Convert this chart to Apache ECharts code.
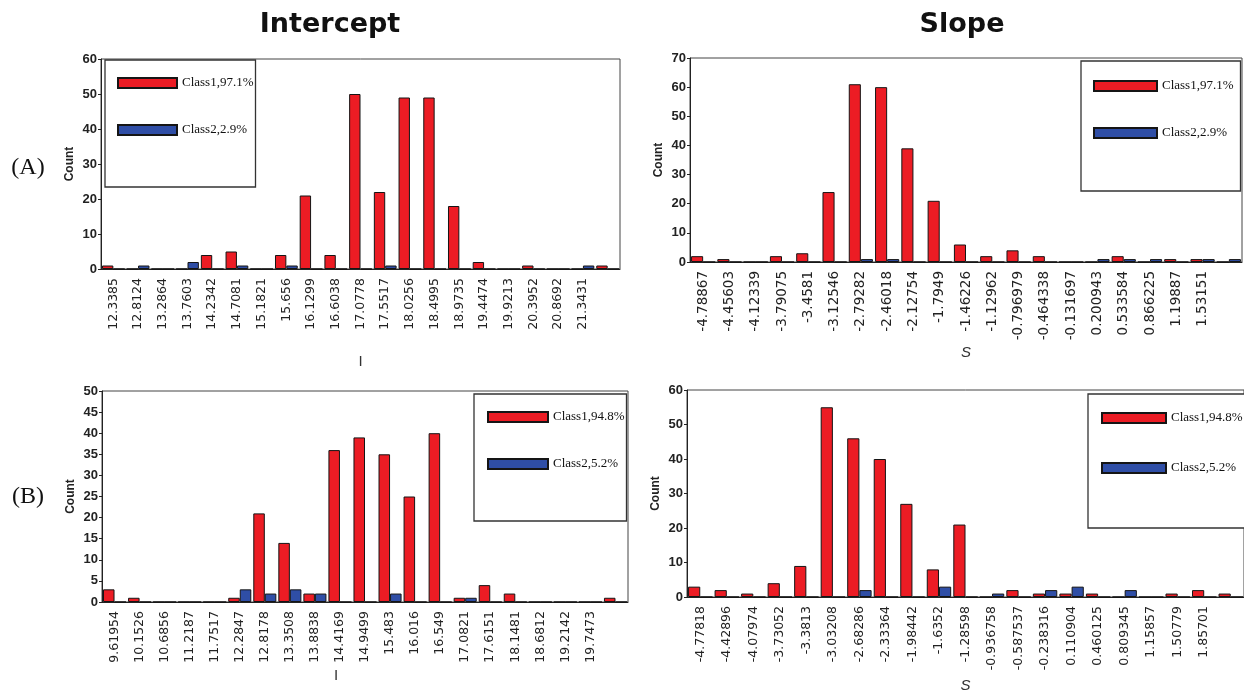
<!DOCTYPE html>
<html>
<head>
<meta charset="utf-8">
<script src="https://cdn.jsdelivr.net/npm/echarts@6/dist/echarts.min.js"></script>
<style>
  html, body { margin: 0; padding: 0; background: #fff; }
  #chart { width: 1244px; height: 694px; }
</style>
</head>
<body>
<div id="chart"></div>
<script>
// Bin labels (last bin of every histogram carries no label)
const interceptBinsA = ['12.3385','12.8124','13.2864','13.7603','14.2342','14.7081','15.1821','15.656','16.1299','16.6038','17.0778','17.5517','18.0256','18.4995','18.9735','19.4474','19.9213','20.3952','20.8692','21.3431',''];
const slopeBinsA = ['-4.78867','-4.45603','-4.12339','-3.79075','-3.4581','-3.12546','-2.79282','-2.46018','-2.12754','-1.7949','-1.46226','-1.12962','-0.796979','-0.464338','-0.131697','0.200943','0.533584','0.866225','1.19887','1.53151',''];
const interceptBinsB = ['9.61954','10.1526','10.6856','11.2187','11.7517','12.2847','12.8178','13.3508','13.8838','14.4169','14.9499','15.483','16.016','16.549','17.0821','17.6151','18.1481','18.6812','19.2142','19.7473',''];
const slopeBinsB = ['-4.77818','-4.42896','-4.07974','-3.73052','-3.3813','-3.03208','-2.68286','-2.33364','-1.98442','-1.6352','-1.28598','-0.936758','-0.587537','-0.238316','0.110904','0.460125','0.809345','1.15857','1.50779','1.85701',''];

// Class names
const class1A = 'Class1,97.1%';
const class2A = 'Class2,2.9%';
const class1B = 'Class1,94.8%';
const class2B = 'Class2,5.2%';

// Counts per bin
const interceptA1 = [1,0,0,0,4,5,0,4,21,4,50,22,49,49,18,2,0,1,0,0,1];
const interceptA2 = [0,1,0,2,0,1,0,1,0,0,0,1,0,0,0,0,0,0,0,1,0];
const slopeA1 = [2,1,0,2,3,24,61,60,39,21,6,2,4,2,0,0,2,0,1,1,0];
const slopeA2 = [0,0,0,0,0,0,1,1,0,0,0,0,0,0,0,1,1,1,0,1,1];
const interceptB1 = [3,1,0,0,0,1,21,14,2,36,39,35,25,40,1,4,2,0,0,0,1];
const interceptB2 = [0,0,0,0,0,3,2,3,2,0,0,2,0,0,1,0,0,0,0,0,0];
const slopeB1 = [3,2,1,4,9,55,46,40,27,8,21,0,2,1,1,1,0,0,1,2,1];
const slopeB2 = [0,0,0,0,0,0,2,0,0,3,0,1,0,2,3,0,2,0,0,0,0];

// Count axis ranges
const yMax = [60, 70, 50, 60];
const yStep = [10, 10, 5, 10];

const RED = '#ec1c24';
const BLUE = '#2f4ea6';
const EDGE = '#151515';

const grids = [
  { left: 101, top: 59, width: 519, height: 210 },
  { left: 690, top: 58, width: 552, height: 204 },
  { left: 102, top: 391, width: 526, height: 211 },
  { left: 687, top: 390, width: 560, height: 210 }
];
const binSets = [interceptBinsA, slopeBinsA, interceptBinsB, slopeBinsB];
const axisNames = ['I', 'S', 'I', 'S'];
const nameGaps = [85, 83, 66, 81];
const namePads = [[0,0,0,0],[0,0,0,0],[0,58,0,0],[0,0,0,0]];
const binFontSize = [12.5, 13.5, 12.5, 12.5];

function xAxisFor(i) {
  return {
    type: 'category', gridIndex: i, data: binSets[i],
    name: axisNames[i], nameLocation: 'middle', nameGap: nameGaps[i],
    nameTextStyle: {
      fontFamily: 'Liberation Sans', fontSize: 15,
      fontStyle: axisNames[i] === 'S' ? 'italic' : 'normal',
      color: '#333', padding: namePads[i]
    },
    axisLine: { lineStyle: { color: '#222', width: 1 } },
    axisTick: { alignWithLabel: true, length: 4, interval: 0, lineStyle: { color: '#222' } },
    axisLabel: {
      interval: 0, rotate: 90, margin: 9,
      fontFamily: 'DejaVu Sans', fontSize: binFontSize[i], color: '#222'
    }
  };
}
function yAxisFor(i) {
  return {
    type: 'value', gridIndex: i, min: 0, max: yMax[i], interval: yStep[i],
    name: 'Count', nameLocation: 'middle', nameGap: 25,
    nameTextStyle: { fontFamily: 'Liberation Sans', fontWeight: 'bold', fontSize: 12, color: '#222' },
    splitLine: { show: false },
    axisLine: { show: true, lineStyle: { color: '#222', width: 1 } },
    axisTick: { show: true, length: 3, lineStyle: { color: '#222' } },
    axisLabel: {
      margin: 4, fontFamily: 'Liberation Sans Narrow, Liberation Sans',
      fontWeight: 'bold', fontSize: 13, color: '#222'
    }
  };
}
function barSeries(name, data, color, i) {
  return {
    type: 'bar', name: name, data: data,
    xAxisIndex: i, yAxisIndex: i,
    barGap: '0%', barCategoryGap: '8%',
    itemStyle: { color: color, borderColor: EDGE, borderWidth: 1 },
    emphasis: { disabled: true },
    animation: false
  };
}
function legendFor(names, box, pad, gap, iconW) {
  return {
    data: names, orient: 'vertical',
    left: box[0], top: box[1],
    padding: pad, itemGap: gap,
    itemWidth: iconW, itemHeight: 10, icon: 'rect',
    borderColor: '#333', borderWidth: 1.3, backgroundColor: '#fff',
    selectedMode: false,
    textStyle: { fontFamily: 'Liberation Serif', fontSize: 13, color: '#111', lineHeight: 14 }
  };
}

const option = {
  backgroundColor: '#fff',
  animation: false,
  grid: grids.map(g => Object.assign({ show: true, borderColor: '#444', borderWidth: 1, containLabel: false }, g)),
  xAxis: [0,1,2,3].map(xAxisFor),
  yAxis: [0,1,2,3].map(yAxisFor),
  legend: [
    legendFor([class1A, class2A], [105, 60], [16, 2, 50, 12], 33, 59),
    legendFor([class1A, class2A], [1081, 61], [18, 7, 51, 12], 33, 63),
    legendFor([class1B, class2B], [474, 394], [16, 2, 50, 13], 33, 60),
    legendFor([class1B, class2B], [1088, 394], [17, 12, 53, 13], 36, 64)
  ],
  series: [
    barSeries(class1A, interceptA1, RED, 0), barSeries(class2A, interceptA2, BLUE, 0),
    barSeries(class1A, slopeA1, RED, 1), barSeries(class2A, slopeA2, BLUE, 1),
    barSeries(class1B, interceptB1, RED, 2), barSeries(class2B, interceptB2, BLUE, 2),
    barSeries(class1B, slopeB1, RED, 3), barSeries(class2B, slopeB2, BLUE, 3)
  ],
  graphic: [
    { type: 'text', x: 330, y: 25, style: { text: 'Intercept', align: 'center', verticalAlign: 'middle', font: 'bold 27px "DejaVu Sans"', fill: '#111' } },
    { type: 'text', x: 962, y: 25, style: { text: 'Slope', align: 'center', verticalAlign: 'middle', font: 'bold 27px "DejaVu Sans"', fill: '#111' } },
    { type: 'text', x: 28, y: 168, style: { text: '(A)', align: 'center', verticalAlign: 'middle', font: '24px "Liberation Serif"', fill: '#111' } },
    { type: 'text', x: 28, y: 497, style: { text: '(B)', align: 'center', verticalAlign: 'middle', font: '24px "Liberation Serif"', fill: '#111' } }
  ]
};

const chart = echarts.init(document.getElementById('chart'), null, { renderer: 'canvas' });
chart.setOption(option);
</script>
</body>
</html>
